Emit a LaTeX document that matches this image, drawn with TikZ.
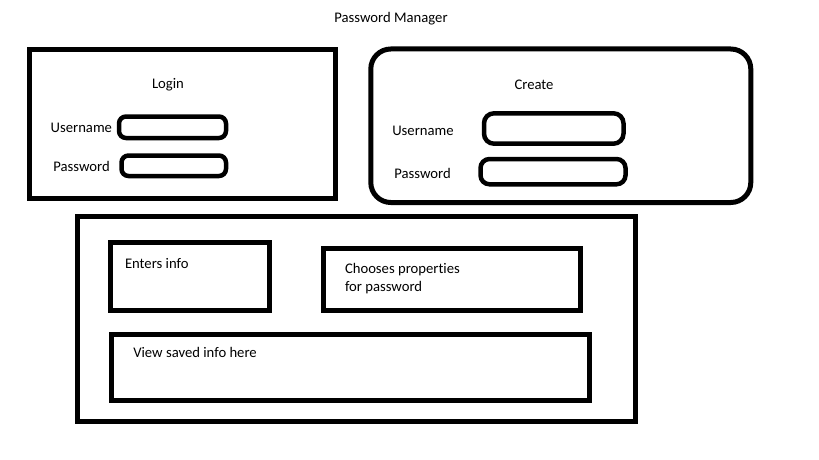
\documentclass[tikz,border=0pt]{standalone}
\usepackage{fontspec}
\setmainfont[Ligatures={NoCommon,NoContextual}]{Carlito}
\begin{document}
\begin{tikzpicture}[x=1pt,y=-1pt,
  frame/.style={draw=black,line width=5pt,inner sep=0pt,outer sep=0pt},
  field/.style={draw=black,line width=4.5pt,inner sep=0pt,outer sep=0pt},
  lbl/.style={inner sep=0pt,outer sep=0pt,font=\fontsize{14.67}{17.7}\selectfont},
]
\useasboundingbox (0,0) rectangle (819,460);
\fill[white] (0,0) rectangle (819,460);

% title
\node[lbl,anchor=base] (title) at (391,22.5) {Password Manager};

% login panel
\node[frame,minimum width=306pt,minimum height=148.4pt] (login) at (182.8,124) {};
\node[lbl,anchor=base] (loginT) at (168,88.3) {Login};
\node[lbl,anchor=base west] (loginU) at (50.7,132.3) {Username};
\node[field,rounded corners=7pt,minimum width=107pt,minimum height=21.5pt] (loginUf) at (172.5,127.25) {};
\node[lbl,anchor=base west] (loginP) at (53.3,171.5) {Password};
\node[field,rounded corners=7pt,minimum width=104.5pt,minimum height=20.5pt] (loginPf) at (173.75,165.75) {};

% create panel
\node[frame,rounded corners=20pt,minimum width=380pt,minimum height=153.5pt] (create) at (560.8,125.75) {};
\node[lbl,anchor=base] (createT) at (534,89.3) {Create};
\node[lbl,anchor=base west] (createU) at (392.3,135.6) {Username};
\node[field,rounded corners=10pt,minimum width=139.5pt,minimum height=30.4pt] (createUf) at (553.75,128.5) {};
\node[lbl,anchor=base west] (createP) at (394.3,178.2) {Password};
\node[field,rounded corners=9pt,minimum width=145pt,minimum height=25.3pt] (createPf) at (553,171.65) {};

% main area
\node[frame,minimum width=558.3pt,minimum height=205pt] (main) at (356.65,319.2) {};
\node[frame,minimum width=158.4pt,minimum height=67.7pt] (enters) at (190,276.35) {};
\node[lbl,anchor=base west] (entersT) at (125,268.3) {Enters info};
\node[frame,minimum width=257.3pt,minimum height=61.7pt] (choose) at (452.15,279.35) {};
\node[lbl,anchor=base west,align=left] (chooseT) at (345,291) {Chooses properties\\for password};
\node[frame,minimum width=477.7pt,minimum height=66pt] (view) at (350.35,367.2) {};
\node[lbl,anchor=base west] (viewT) at (133.3,357.6) {View saved info here};
\end{tikzpicture}
\end{document}
